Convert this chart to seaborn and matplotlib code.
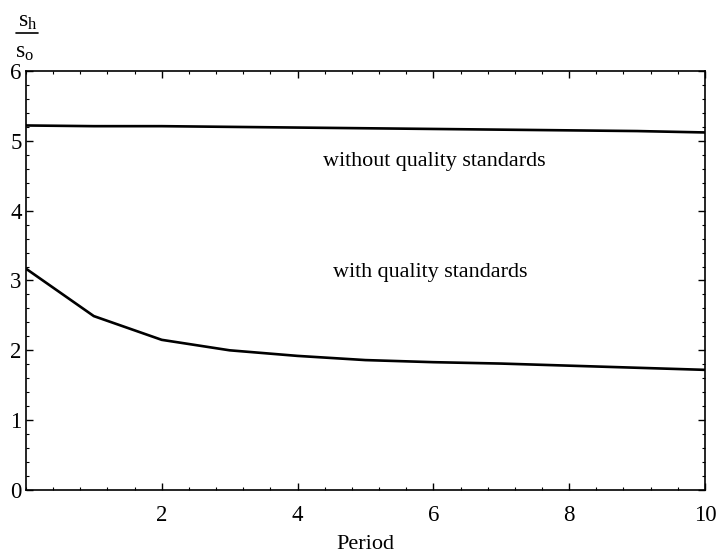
import numpy as np
import pandas as pd
import seaborn as sns
import matplotlib
matplotlib.use("Agg")
import matplotlib.pyplot as plt
from matplotlib.ticker import MultipleLocator
from matplotlib.lines import Line2D

periods = [0, 1, 2, 3, 4, 5, 6, 7, 8, 9, 10]
without_std = [5.22, 5.21, 5.21, 5.20, 5.19, 5.18, 5.17, 5.16, 5.15, 5.14, 5.12]
with_std = [3.17, 2.49, 2.15, 2.00, 1.92, 1.86, 1.83, 1.81, 1.78, 1.75, 1.72]
x_ticks = [2, 4, 6, 8, 10]
y_ticks = [0, 1, 2, 3, 4, 5, 6]

df = pd.DataFrame({
    "Period": periods * 2,
    "ratio": without_std + with_std,
    "series": ["without quality standards"] * len(periods) + ["with quality standards"] * len(periods),
})

sns.set_theme(style="ticks")
plt.rcParams['font.family'] = ['Liberation Serif', 'DejaVu Serif']
plt.rcParams['mathtext.fontset'] = 'stix'

fig = plt.figure(figsize=(7.19, 5.53), dpi=100)
ax = fig.add_axes([0.036, 0.114, 0.9445, 0.7576])

sns.lineplot(data=df, x="Period", y="ratio", units="series", estimator=None,
             color="black", linewidth=1.9, ax=ax, legend=False)

ax.set_xlim(0, 10)
ax.set_ylim(0, 6)
ax.set_xticks(x_ticks)
ax.set_yticks(y_ticks)
ax.xaxis.set_minor_locator(MultipleLocator(0.4))
ax.yaxis.set_minor_locator(MultipleLocator(0.2))
ax.tick_params(which="both", direction="in", top=True, right=True, labelsize=16.5, colors="black")
ax.tick_params(which="major", length=5, width=1)
ax.tick_params(which="minor", length=2.5, width=0.8)
ax.tick_params(axis="x", pad=11)
ax.tick_params(axis="y", pad=3)
for s in ax.spines.values():
    s.set_color("black")
    s.set_linewidth(1.2)

ax.set_xlabel("Period", fontsize=16, labelpad=6, color="black")
ax.set_ylabel("")

ax.text(6.02, 4.70, "without quality standards", fontsize=15.9, ha="center", va="center", color="black")
ax.text(5.95, 3.12, "with quality standards", fontsize=15.9, ha="center", va="center", color="black")

# y-axis label as fraction s_h / s_o
fig.text(0.038, 0.962, r"s$_\mathregular{h}$", fontsize=17, ha="center", va="center", color="black")
fig.add_artist(Line2D([0.022, 0.053], [0.941, 0.941], transform=fig.transFigure, color="black", linewidth=1.2))
fig.text(0.034, 0.905, r"s$_\mathregular{o}$", fontsize=17, ha="center", va="center", color="black")

fig.savefig("out.png", dpi=100)
